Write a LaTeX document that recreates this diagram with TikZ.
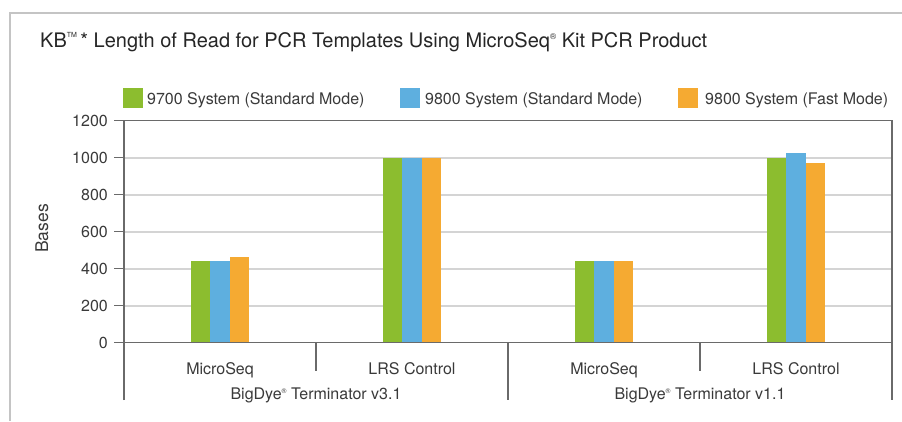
\documentclass[tikz,border=0pt]{standalone}
\usepackage{fontspec}
\setmainfont{TeX Gyre Heros}
\definecolor{cgreen}{HTML}{8CBD2F}
\definecolor{cblue}{HTML}{5EAFDF}
\definecolor{corange}{HTML}{F5AA32}
\definecolor{axisgray}{HTML}{6A6A6A}
\definecolor{gridgray}{HTML}{D4D4D4}
\definecolor{framegray}{HTML}{C4C4C4}
\definecolor{txt}{HTML}{3A3A3A}
\newcommand{\regmark}{\raisebox{0.36em}{\scalebox{0.42}{®}}}
\newcommand{\tmmark}{\raisebox{0.47em}{\fontsize{7}{7}\selectfont TM}}
\tikzset{
  lbl/.style={inner sep=0pt, text=txt, font=\fontsize{16}{18}\selectfont},
  ticklbl/.style={lbl, anchor=east},
  axisline/.style={draw=axisgray, line width=1.3pt},
  gridline/.style={draw=gridgray, line width=1.6pt},
  legbox/.style={minimum width=20pt, minimum height=20pt, inner sep=0pt},
}
\newcommand{\Yv}[1]{342.7-0.185*#1}
\begin{document}
\begin{tikzpicture}[x=1pt,y=-1pt]
\useasboundingbox (0,0) rectangle (902,421);
\fill[white] (0,0) rectangle (902,421);
% outer frame
\draw[framegray, line width=1.2pt] (10,421) -- (10,13) -- (902,13);
% title
\node[lbl, anchor=base west, text=black!85, font=\fontsize{20}{22}\selectfont] (title) at (40,47)
  {KB\tmmark\,* Length of Read for PCR Templates Using MicroSeq\regmark{} Kit PCR Product};
% legend
\node[legbox, fill=cgreen, anchor=north west] (lg1) at (123,88) {};
\node[lbl, anchor=base west] (lt1) at (147,104) {9700 System (Standard Mode)};
\node[legbox, fill=cblue, anchor=north west] (lg2) at (400,88) {};
\node[lbl, anchor=base west] (lt2) at (425,104) {9800 System (Standard Mode)};
\node[legbox, fill=corange, anchor=north west] (lg3) at (678,88) {};
\node[lbl, anchor=base west] (lt3) at (705,104) {9800 System (Fast Mode)};
% grid lines
\foreach \v in {200,400,...,1000} {
  \draw[gridline] (124,{\Yv{\v}}) -- (892,{\Yv{\v}});
}
% bars
\foreach \c/\a/\b/\o in {220/440/440/463, 412/1000/1000/1000, 604/440/440/440, 796/1000/1025/973} {
  \fill[cgreen] ({\c-29},342.7) rectangle ({\c-9.67},{\Yv{\a}});
  \fill[cblue] ({\c-9.67},342.7) rectangle ({\c+9.67},{\Yv{\b}});
  \fill[corange] ({\c+9.67},342.7) rectangle ({\c+29},{\Yv{\o}});
}
% axes and frame of plot
\draw[axisline] (124,400) -- (124,{\Yv{1200}}) -- (892,{\Yv{1200}}) -- (892,400);
\draw[axisline] (114,342.7) -- (892,342.7);
\foreach \v in {0,200,...,1200} {
  \draw[axisline] (114,{\Yv{\v}}) -- (124,{\Yv{\v}});
  \node[ticklbl] (t\v) at (108,{\Yv{\v}}) {\v};
}
% category separators
\draw[axisline] (316,342.7) -- (316,371);
\draw[axisline] (508,342.7) -- (508,400);
\draw[axisline] (700,342.7) -- (700,371);
% y axis title
\node[lbl, rotate=90, font=\fontsize{17.5}{20}\selectfont] (ytitle) at (42,228.5) {Bases};
% category labels
\node[lbl, anchor=base] (c1) at (220,374) {MicroSeq};
\node[lbl, anchor=base] (c2) at (412,374) {LRS Control};
\node[lbl, anchor=base] (c3) at (604,374) {MicroSeq};
\node[lbl, anchor=base] (c4) at (796,374) {LRS Control};
\node[lbl, anchor=base] (g1) at (316,399.5) {BigDye\regmark{} Terminator v3.1};
\node[lbl, anchor=base] (g2) at (700,399.5) {BigDye\regmark{} Terminator v1.1};
\end{tikzpicture}
\end{document}
